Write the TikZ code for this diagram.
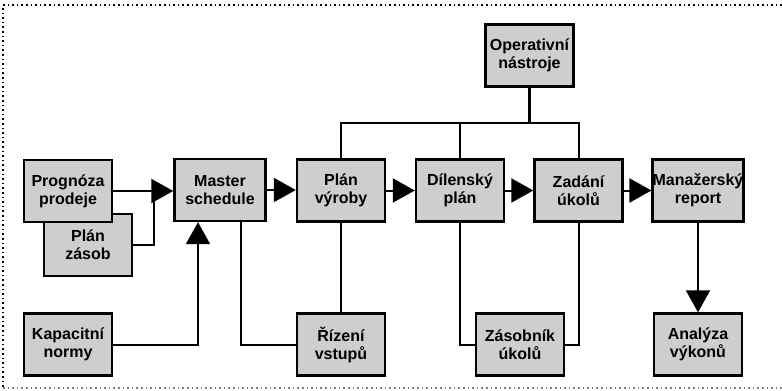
\documentclass[tikz,border=0pt]{standalone}
\usepackage{fontspec}
\setmainfont{Liberation Sans}
\usetikzlibrary{arrows.meta}
\definecolor{boxgray}{RGB}{206,206,206}
\begin{document}
\begin{tikzpicture}[x=1pt,y=-1pt,
  blk/.style={draw=black, line width=2.4pt, fill=boxgray,
    minimum width=88pt, minimum height=62pt, inner sep=0pt, align=center,
    font=\fontsize{16}{18}\selectfont\bfseries},
  link/.style={line width=2pt},
  flow/.style={link, -{Triangle[length=22pt,width=24pt]}},
  frame/.style={line width=1.6pt, dash pattern=on 1.6pt off 3pt}]
\useasboundingbox (0,0) rectangle (782,391);

% dotted frame (open on the right)
\draw[frame] (782,5) -- (3,5) -- (3,388);
\draw[frame, gray] (3,388) -- (782,388);

% blocks
\node[blk] (zas)    at (88,245)     {Plán\\zásob};
\node[blk] (prog)   at (68,191)     {Prognóza\\prodeje};
\node[blk, minimum width=91pt] (master) at (220,190) {Master\\schedule};
\node[blk] (planv)  at (341,190.5)  {Plán\\výroby};
\node[blk] (dil)    at (460,190.5)  {Dílenský\\plán};
\node[blk] (zad)    at (578.5,190.5){Zadání\\úkolů};
\node[blk] (man)    at (698,190.5)  {Manažerský\\report};
\node[blk] (oper)   at (529.5,55.5) {Operativní\\nástroje};
\node[blk] (kap)    at (68,344.5)   {Kapacitní\\normy};
\node[blk] (riz)    at (341,344.5)  {Řízení\\vstupů};
\node[blk] (zasob)  at (520,344.5)  {Zásobník\\úkolů};
\node[blk] (anal)   at (698,344.5)  {Analýza\\výkonů};

% junction points
\coordinate (zj)  at (154,191);
\coordinate (bus) at (529.5,123);

% inputs to the master schedule
\draw[flow] (prog.east) -- (prog.east -| master.west);
\draw[link] (zas.east) -| (zj);
\draw[flow] (kap.east) -| ([xshift=-22pt]master.south);
\draw[link] ([xshift=21pt]master.south) |- (riz.west);
\draw[link] (planv.south) -- (riz.north);

% main chain
\draw[flow] (master.east) -- (master.east -| planv.west);
\draw[flow] (planv.east) -- (dil.west);
\draw[flow] (dil.east) -- (zad.west);
\draw[flow] (zad.east) -- (man.west);
\draw[flow] (man.south) -- (anal.north);

% operative tools bus
\draw[link, line width=3pt] (oper.south) -- (bus);
\draw[link] (planv.north) |- (bus) -| (zad.north);
\draw[link] (dil.north) -- (dil.north |- bus);

% job queue loop
\draw[link] (dil.south) |- (zasob.west);
\draw[link] (zad.south) |- (zasob.east);
\end{tikzpicture}
\end{document}
